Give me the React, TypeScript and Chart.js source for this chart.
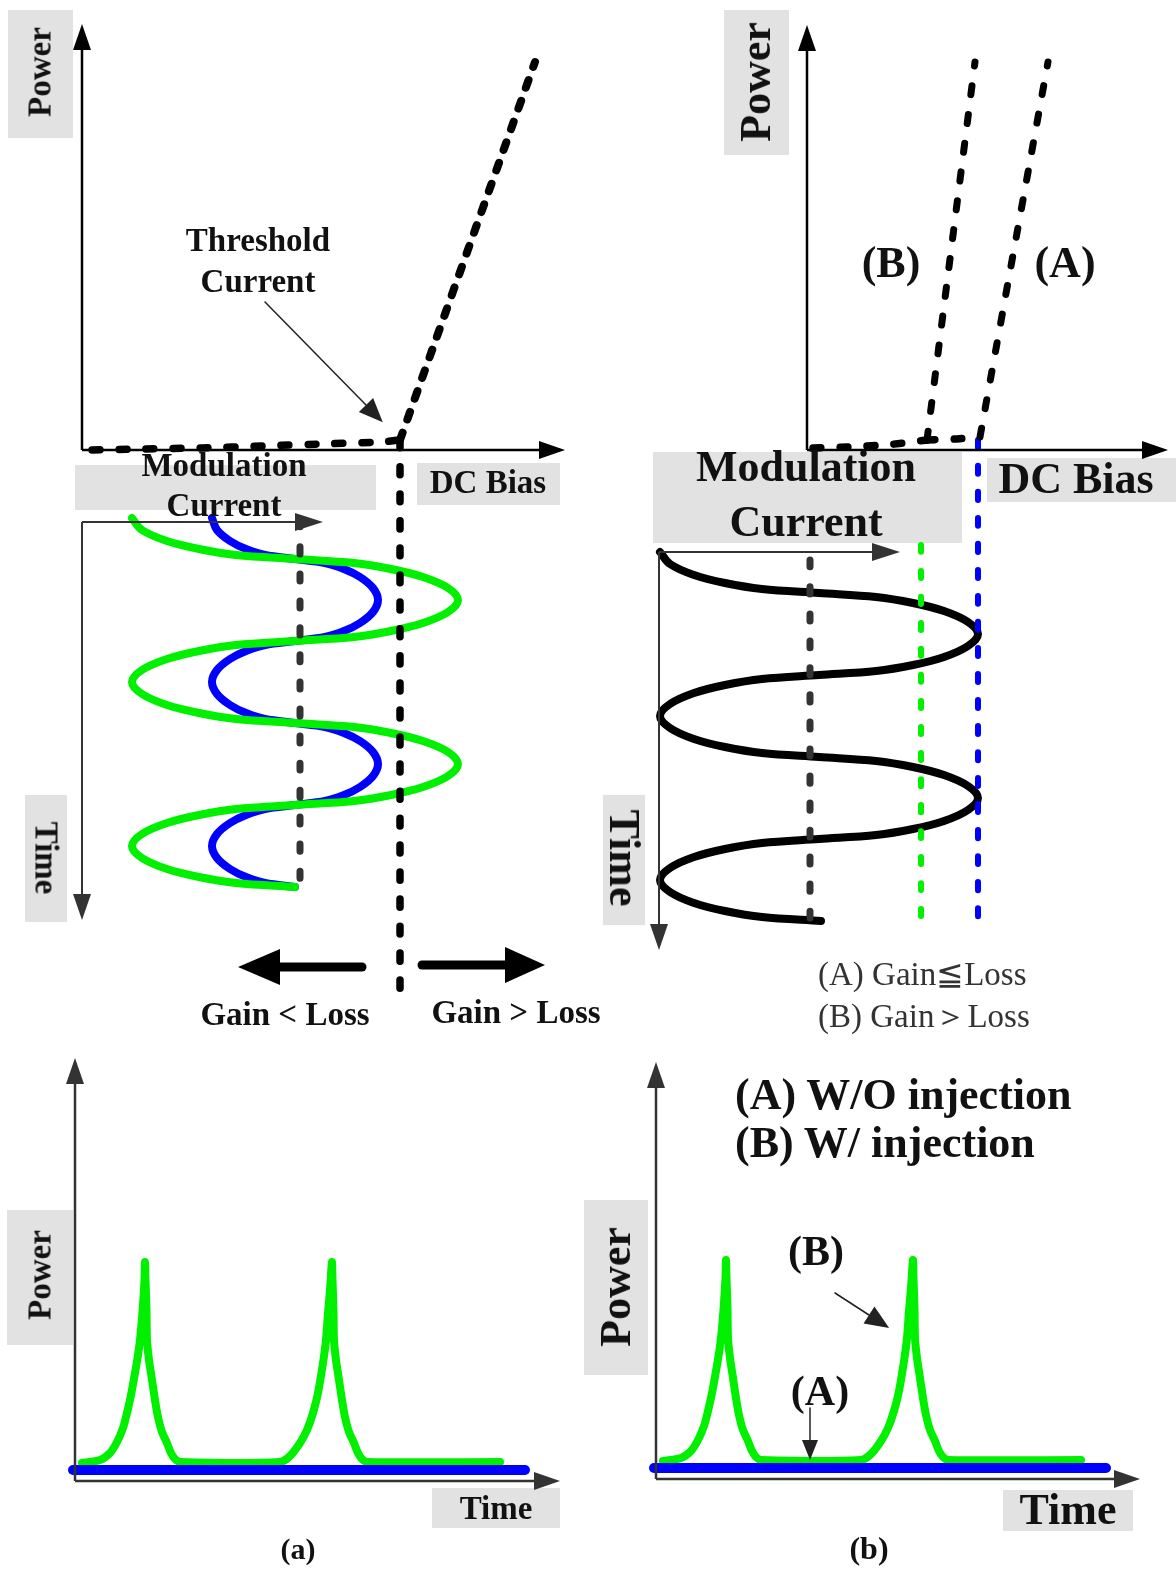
import React, { useEffect, useRef } from "react";
import { Chart, registerables } from "chart.js";

Chart.register(...registerables);

const W = 1176;
const H = 1573;

// ---------------- data (each panel in its own units, measured from its axis origin) ----------------
// (a) top : light output vs DC bias
const liA_biasBelow = [10, 60, 120, 180, 240, 300, 318];
const liA_powerBelow = [0, 1, 2, 4, 6, 8, 10];
const liA_biasAbove = [318, 453];
const liA_powerAbove = [10, 388];
const thresholdA_bias = [318, 318];
const thresholdA_span = [10, -555];
const thresholdNote_bias = [183, 284];
const thresholdNote_power = [148, 45];

// (b) top : curves (A) without and (B) with injection
const liFlat_bias = [6, 40, 80, 120];
const liFlat_power = [2, 3, 5, 10];
const liB_bias = [120, 168];
const liB_power = [10, 388];
const liA2_flatBias = [120, 150, 173];
const liA2_flatPower = [10, 11, 13];
const liA2_bias = [173, 241];
const liA2_power = [13, 388];

// (a) middle : modulation current vs time
const modTime_a = [
  -4, 8, 19, 27, 33, 37, 41, 47, 55, 66, 78,
  90, 101, 109, 115, 119, 123, 129, 137, 148, 160,
  172, 183, 191, 197, 201, 205, 211, 219, 230, 242,
  254, 265, 273, 279, 283, 287, 293, 301, 312, 324,
  336, 347, 355, 361, 365,
];
const modGreen_a = [
  50, 60, 85, 117, 154, 213, 272, 309, 341, 366, 376,
  366, 341, 309, 272, 213, 154, 117, 85, 60, 50,
  60, 85, 117, 154, 213, 272, 309, 341, 366, 376,
  366, 341, 309, 272, 213, 154, 117, 85, 60, 50,
  60, 85, 117, 154, 213,
];
const modBlue_a = [
  130, 135, 148, 164, 183, 213, 243, 262, 278, 291, 296,
  291, 278, 262, 243, 213, 183, 164, 148, 135, 130,
  135, 148, 164, 183, 213, 243, 262, 278, 291, 296,
  291, 278, 262, 243, 213, 183, 164, 148, 135, 130,
  135, 148, 164, 183, 213,
];
const biasA_current = [218, 218];
const biasA_time = [-2, 368];
const gainLess_current = [280, 198];
const gainLess_time = [445, 445];
const gainMore_current = [340, 423];
const gainMore_time = [443, 443];

// (b) middle
const modTime_b = [
  0, 12, 23, 31, 37, 41, 45, 51, 59, 70, 82,
  94, 105, 113, 119, 123, 127, 133, 141, 152, 164,
  176, 187, 195, 201, 205, 209, 215, 223, 234, 246,
  258, 269, 277, 283, 287, 291, 297, 305, 316, 328,
  340, 351, 359, 365, 369,
];
const modBlack_b = [
  1, 11, 35, 66, 103, 160, 217, 254, 285, 309, 319,
  309, 285, 254, 217, 160, 103, 66, 35, 11, 1,
  11, 35, 66, 103, 160, 217, 254, 285, 309, 319,
  309, 285, 254, 217, 160, 103, 66, 35, 11, 1,
  11, 35, 66, 103, 162,
];
const biasB_current = [151, 151];
const biasB_time = [8, 366];
const threshB_current = [262, 262];
const threshB_time = [-7, 373];
const threshA_current = [319, 319];
const threshA_time = [-112, 373];

// bottom : output power vs time
const pulseTime = [7, 25, 35, 42, 48, 52, 56, 60, 63, 65, 67, 68.5, 69.5, 70, 70.5, 71.5, 72, 74, 77, 80, 83, 87, 92, 96, 100, 105, 205, 215, 225, 232, 238, 243, 248, 251, 253, 255, 256, 257, 257.5, 258.5, 259, 261, 264, 267, 270, 274, 279, 283, 287, 292, 425];
const pulsePower = [18, 21, 28, 39, 53, 68, 86, 108, 126, 141, 163, 184, 201, 219, 201, 171, 141, 121, 101, 81, 64, 49, 38, 28, 22, 19, 19, 25, 38, 51, 68, 88, 118, 141, 168, 191, 206, 219, 201, 171, 141, 121, 101, 81, 64, 49, 38, 28, 22, 19, 19];
const flatTime = [-2, 450];
const flatPower = [11, 11];
const noteB_time = [179, 213];
const noteB_power = [186, 164];
const noteA_time = [154, 154];
const noteA_power = [71, 39];

// ---------------- layout ----------------
const ORIGINS: Record<string, [number, number, boolean]> = {
  tl: [82, 450, false],
  tr: [807, 450, false],
  ml: [82, 522, true],
  mr: [659, 552, true],
  bl: [75, 1481, false],
  br: [656, 1479, false],
};

const GREEN = "#00f000";
const BLUE = "#0000ff";
const DARK = "#333333";

function buildScales() {
  const s: any = {};
  Object.keys(ORIGINS).forEach((k) => {
    const [ox, oy, down] = ORIGINS[k];
    s[k + "x"] = { type: "linear", axis: "x", display: false, bounds: "data", min: -ox, max: W - ox };
    s[k + "y"] = down
      ? { type: "linear", axis: "y", display: false, bounds: "data", reverse: true, min: -oy, max: H - oy }
      : { type: "linear", axis: "y", display: false, bounds: "data", min: oy - H, max: oy };
  });
  return s;
}

function ds(panel: string, xs: number[], ys: number[], st: any) {
  return {
    data: xs.map((x, i) => ({ x, y: ys[i] })),
    xAxisID: panel + "x",
    yAxisID: panel + "y",
    showLine: true,
    fill: false,
    pointRadius: 0,
    pointHoverRadius: 0,
    clip: false,
    tension: 0.001,
    borderCapStyle: "round",
    borderJoinStyle: "round",
    ...st,
  };
}

const arrowHeads = {
  id: "arrowHeads",
  afterDatasetsDraw(chart: any) {
    const ctx = chart.ctx;
    chart.data.datasets.forEach((d: any, i: number) => {
      const a = d.arrow;
      if (!a) return;
      const pts = chart.getDatasetMeta(i).data;
      const n = pts.length;
      if (n < 2) return;
      const p = pts[n - 1];
      const q = pts[n - 2];
      let dx = p.x - q.x;
      let dy = p.y - q.y;
      const L = Math.hypot(dx, dy) || 1;
      dx /= L;
      dy /= L;
      ctx.save();
      ctx.fillStyle = a.color || d.borderColor;
      ctx.beginPath();
      ctx.moveTo(p.x + dx * a.len, p.y + dy * a.len);
      ctx.lineTo(p.x - dy * a.half, p.y + dx * a.half);
      ctx.lineTo(p.x + dy * a.half, p.y - dx * a.half);
      ctx.closePath();
      ctx.fill();
      ctx.restore();
    });
  },
};

const BOXES: [number, number, number, number][] = [
  [8, 10, 65, 128],
  [75, 465, 301, 45],
  [417, 463, 143, 42],
  [25, 795, 42, 127],
  [724, 10, 65, 145],
  [653, 452, 309, 91],
  [987, 458, 189, 44],
  [603, 795, 42, 130],
  [7, 1210, 66, 135],
  [432, 1488, 128, 40],
  [584, 1200, 64, 175],
  [1003, 1490, 130, 41],
];

type Lbl = { t: string; x: number; b?: number; cy?: number; size: number; rot?: number; left?: boolean; regular?: boolean; color?: string };
const LABELS: Lbl[] = [
  { t: "Power", x: 40, cy: 72, size: 33, rot: -90 },
  { t: "Threshold", x: 258, b: 252, size: 33 },
  { t: "Current", x: 258, b: 293, size: 33 },
  { t: "Modulation", x: 224, b: 477, size: 33 },
  { t: "Current", x: 224, b: 517, size: 33 },
  { t: "DC Bias", x: 488, b: 494, size: 33 },
  { t: "Time", x: 46, cy: 858, size: 33, rot: 90 },
  { t: "Gain < Loss", x: 285, b: 1026, size: 33 },
  { t: "Gain > Loss", x: 516, b: 1024, size: 33 },
  { t: "Power", x: 756, cy: 82, size: 44, rot: -90 },
  { t: "(B)", x: 891, b: 278, size: 44 },
  { t: "(A)", x: 1065, b: 278, size: 44 },
  { t: "Modulation", x: 806, b: 482, size: 44 },
  { t: "Current", x: 806, b: 537, size: 44 },
  { t: "DC Bias", x: 1076, b: 494, size: 44 },
  { t: "Time", x: 624, cy: 858, size: 44, rot: 90 },
  { t: "(A) Gain≦Loss", x: 818, b: 986, size: 33, left: true, regular: true, color: "#333" },
  { t: "(B) Gain＞Loss", x: 818, b: 1028, size: 33, left: true, regular: true, color: "#333" },
  { t: "Power", x: 40, cy: 1275, size: 33, rot: -90 },
  { t: "Time", x: 496, b: 1520, size: 33 },
  { t: "(a)", x: 298, b: 1559, size: 30 },
  { t: "(A) W/O injection", x: 735, b: 1110, size: 44, left: true },
  { t: "(B) W/ injection", x: 735, b: 1158, size: 44, left: true },
  { t: "Power", x: 616, cy: 1287, size: 44, rot: -90 },
  { t: "(B)", x: 816, b: 1265, size: 42 },
  { t: "(A)", x: 820, b: 1405, size: 42 },
  { t: "Time", x: 1068, b: 1525, size: 44 },
  { t: "(b)", x: 869, b: 1559, size: 32 },
];

const FONT = "'Liberation Serif', 'Times New Roman', 'DejaVu Serif', serif";

export default function App() {
  const ref = useRef<HTMLCanvasElement>(null);

  useEffect(() => {
    if (!ref.current) return;
    const dashBig = { borderWidth: 7.5, borderDash: [8, 19], borderColor: "#000" };
    const axis = (c: string, w: number, len: number, half: number) => ({ borderColor: c, borderWidth: w, borderCapStyle: "butt", order: 1, arrow: { len, half } });
    const datasets: any[] = [
      // axes
      ds("tl", [0, 0], [0, 400], axis("#000", 2.5, 26, 9)),
      ds("tl", [0, 457], [0, 0], axis("#000", 2.5, 26, 9)),
      ds("tr", [0, 0], [0, 399], axis("#000", 2.5, 26, 9)),
      ds("tr", [0, 335], [0, 0], axis("#000", 2.5, 26, 9)),
      ds("ml", [0, 213], [0, 0], axis(DARK, 2, 28, 9)),
      ds("ml", [0, 0], [0, 372], axis(DARK, 2, 26, 9)),
      ds("mr", [0, 213], [0, 0], axis(DARK, 2, 28, 9)),
      ds("mr", [0, 0], [0, 372], axis(DARK, 2, 26, 9)),
      ds("bl", [0, 0], [0, 397], axis(DARK, 2.5, 26, 9)),
      ds("bl", [0, 459], [0, 0], axis(DARK, 2.5, 26, 9)),
      ds("br", [0, 0], [0, 391], axis(DARK, 2.5, 26, 9)),
      ds("br", [0, 458], [0, 0], axis(DARK, 2.5, 26, 9)),
      // annotation arrows
      ds("tl", thresholdNote_bias, thresholdNote_power, { borderColor: "#222", borderWidth: 1.5, order: 1, arrow: { len: 24, half: 10 } }),
      ds("br", noteB_time, noteB_power, { borderColor: "#222", borderWidth: 1.5, order: 1, arrow: { len: 24, half: 10 } }),
      ds("br", noteA_time, noteA_power, { borderColor: "#222", borderWidth: 1.5, order: 1, arrow: { len: 20, half: 8 } }),
      ds("ml", gainLess_current, gainLess_time, { borderColor: "#000", borderWidth: 9, order: 1, arrow: { len: 42, half: 18 } }),
      ds("ml", gainMore_current, gainMore_time, { borderColor: "#000", borderWidth: 9, order: 1, arrow: { len: 40, half: 18 } }),
      // dashed L-I curves
      ds("tl", liA_biasBelow, liA_powerBelow, { ...dashBig, order: 3 }),
      ds("tl", liA_biasAbove, liA_powerAbove, { borderWidth: 8, borderDash: [8, 14], borderColor: "#000", order: 3 }),
      ds("tl", thresholdA_bias, thresholdA_span, { ...dashBig, order: 3 }),
      ds("tr", liFlat_bias, liFlat_power, { ...dashBig, order: 3 }),
      ds("tr", liB_bias, liB_power, { borderWidth: 7, borderDash: [9, 20], borderColor: "#000", order: 3 }),
      ds("tr", liA2_flatBias, liA2_flatPower, { ...dashBig, order: 3 }),
      ds("tr", liA2_bias, liA2_power, { borderWidth: 7, borderDash: [9, 20], borderColor: "#000", order: 3 }),
      // bias lines in modulation panels
      ds("ml", biasA_current, biasA_time, { borderWidth: 7, borderDash: [7, 20], borderColor: DARK, order: 4 }),
      ds("mr", biasB_current, biasB_time, { borderWidth: 7, borderDash: [7, 20], borderColor: DARK, order: 4 }),
      ds("mr", threshB_current, threshB_time, { borderWidth: 6, borderDash: [7, 19], borderColor: GREEN, order: 4 }),
      ds("mr", threshA_current, threshA_time, { borderWidth: 6, borderDash: [8, 18], borderColor: BLUE, order: 4 }),
      // modulation signals
      ds("ml", modGreen_a, modTime_a, { borderWidth: 8, borderColor: GREEN, tension: 0.35, order: 10 }),
      ds("ml", modBlue_a, modTime_a, { borderWidth: 8, borderColor: BLUE, tension: 0.35, order: 11 }),
      ds("mr", modBlack_b, modTime_b, { borderWidth: 8, borderColor: "#000", tension: 0.35, order: 10 }),
      // output power
      ds("bl", flatTime, flatPower, { borderWidth: 10, borderColor: BLUE, order: 8 }),
      ds("bl", pulseTime, pulsePower, { borderWidth: 8, borderColor: GREEN, tension: 0.3, order: 9 }),
      ds("br", flatTime, flatPower, { borderWidth: 10, borderColor: BLUE, order: 8 }),
      ds("br", pulseTime, pulsePower, { borderWidth: 8, borderColor: GREEN, tension: 0.3, order: 9 }),
    ];

    const chart = new Chart(ref.current, {
      type: "scatter",
      data: { datasets },
      options: {
        responsive: false,
        animation: false,
        devicePixelRatio: 1,
        events: [],
        layout: { padding: 0, autoPadding: false },
        plugins: { legend: { display: false }, tooltip: { enabled: false }, title: { display: false } },
        scales: buildScales(),
      } as any,
      plugins: [arrowHeads],
    });
    return () => chart.destroy();
  }, []);

  return (
    <div style={{ position: "absolute", left: 0, top: 0, width: W, height: H, background: "#fff", overflow: "hidden" }}>
      {BOXES.map(([x, y, w, h], i) => (
        <div key={"b" + i} style={{ position: "absolute", left: x, top: y, width: w, height: h, background: "#e2e2e2" }} />
      ))}
      <canvas ref={ref} width={W} height={H} style={{ position: "absolute", left: 0, top: 0, width: W, height: H }} />
      {LABELS.map((l, i) => {
        const base: any = {
          position: "absolute",
          fontFamily: FONT,
          fontSize: l.size,
          lineHeight: l.size + "px",
          fontWeight: l.regular ? 400 : 700,
          color: l.color || "#111",
          whiteSpace: "nowrap",
        };
        if (l.rot) {
          return (
            <div key={"l" + i} style={{ ...base, left: l.x, top: l.cy, transform: `translate(-50%, -50%) rotate(${l.rot}deg)` }}>
              {l.t}
            </div>
          );
        }
        return (
          <div
            key={"l" + i}
            style={{ ...base, left: l.x, top: (l.b as number) - 0.8375 * l.size, transform: l.left ? undefined : "translateX(-50%)" }}
          >
            {l.t}
          </div>
        );
      })}
    </div>
  );
}
